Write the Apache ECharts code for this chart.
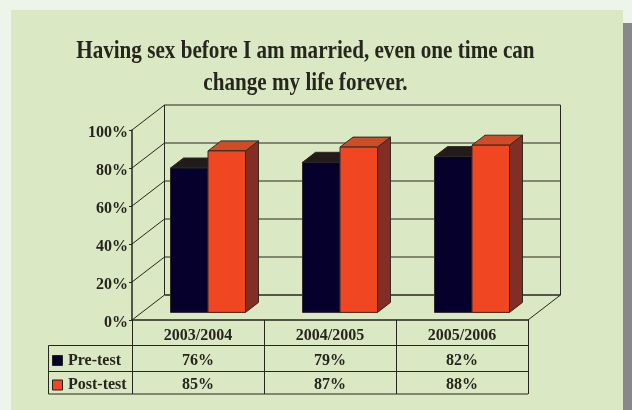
<!DOCTYPE html>
<html>
<head>
<meta charset="utf-8">
<title>Having sex before I am married</title>
<script src="https://cdn.jsdelivr.net/npm/echarts@6/dist/echarts.min.js"></script>
<style>
  html, body { margin: 0; padding: 0; background: #edf5ea; }
  #chart { width: 632px; height: 410px; }
</style>
</head>
<body>
<div id="chart"></div>
<script>
const titleLines = ['Having sex before I am married, even one time can', 'change my life forever.'];
const categories = ['2003/2004', '2004/2005', '2005/2006'];
const preTest = [76, 79, 82];
const postTest = [85, 87, 88];
const seriesNames = ['Pre-test', 'Post-test'];
const yTicks = [0, 20, 40, 60, 80, 100];

const FONT = '"Liberation Serif", serif';
const INK = '#26261e';
const PANEL = '#dbe8c4';

// depth of the fake 3d box, and of one bar inside it
const wallDx = 32.5, wallDy = -25;
const barDx = 13, barDy = -10;
const barInsetX = 10, barInsetY = -7.6;
const barWidth = 37.5;

const gridLeft = 132, gridRight = 528, gridTop = 130, gridBottom = 320;
const rowLines = [345.5, 371.5, 394];
const tableLeft = 48.5;

let chart = echarts.init(document.getElementById('chart'));

// back wall, left wall and floor
function renderWalls(params, api) {
  let box = params.coordSys;
  let y = api.coord([0, api.value(0)])[1];
  let children = [
    line(box.x, y, box.x + wallDx, y + wallDy, 1),
    line(box.x + wallDx, y + wallDy, box.x + box.width + wallDx, y + wallDy, api.value(0) === 0 ? 1.6 : 1)
  ];
  if (api.value(0) === 0) {
    children.push(line(box.x + box.width, y, box.x + box.width + wallDx, y + wallDy, 1));
  }
  if (api.value(0) === 100) {
    children.push(line(box.x + wallDx, y + wallDy, box.x + wallDx, box.y + box.height + wallDy, 1));
    children.push(line(box.x + box.width + wallDx, y + wallDy, box.x + box.width + wallDx, box.y + box.height + wallDy, 1));
  }
  return { type: 'group', children: children };
}

function line(x1, y1, x2, y2, w) {
  return {
    type: 'line',
    shape: { x1: x1, y1: y1, x2: x2, y2: y2 },
    style: { stroke: INK, lineWidth: w }
  };
}

function poly(points, fill) {
  return {
    type: 'polygon',
    shape: { points: points },
    style: { fill: fill, stroke: '#2f2a24', lineWidth: 1, lineJoin: 'round' }
  };
}

function barRenderer(side, colors) {
  return function (params, api) {
    let top = api.coord([api.value(0), api.value(1)]);
    let base = api.coord([api.value(0), 0]);
    let x0 = top[0] + barInsetX + (side < 0 ? -barWidth : 0);
    let x1 = x0 + barWidth;
    let yT = top[1] + barInsetY;
    let yB = base[1] + barInsetY;
    return {
      type: 'group',
      children: [
        poly([[x1, yT], [x1 + barDx, yT + barDy], [x1 + barDx, yB + barDy], [x1, yB]], colors.side),
        poly([[x0, yT], [x0 + barDx, yT + barDy], [x1 + barDx, yT + barDy], [x1, yT]], colors.top),
        poly([[x0, yT], [x1, yT], [x1, yB], [x0, yB]], colors.front)
      ]
    };
  };
}

// text and rules of the data table under the plot
function tableGraphics() {
  let els = [];
  let bandW = (gridRight - gridLeft) / categories.length;
  let rowCenters = [361, 385];
  let rows = [preTest, postTest];
  let swatches = [{ y: 355.5, c: '#05002c' }, { y: 380, c: '#f04722' }];

  rowLines.forEach(function (y) {
    els.push({ type: 'line', z: 5, shape: { x1: tableLeft, y1: y, x2: gridRight, y2: y }, style: { stroke: INK, lineWidth: 1 } });
  });
  els.push({ type: 'line', z: 5, shape: { x1: tableLeft, y1: rowLines[0], x2: tableLeft, y2: rowLines[2] }, style: { stroke: INK, lineWidth: 1 } });

  rows.forEach(function (vals, r) {
    els.push({ type: 'rect', z: 6, shape: { x: 52.5, y: swatches[r].y, width: 10, height: 10 }, style: { fill: swatches[r].c, stroke: '#222', lineWidth: 1 } });
    els.push({
      type: 'text', z: 6, x: 68, y: rowCenters[r],
      style: { text: seriesNames[r], font: 'bold 16px ' + FONT, fill: INK, textAlign: 'left', textVerticalAlign: 'middle' }
    });
    vals.forEach(function (v, i) {
      els.push({
        type: 'text', z: 6, x: gridLeft + bandW * (i + 0.5), y: rowCenters[r],
        style: { text: v + '%', font: 'bold 16px ' + FONT, fill: INK, textAlign: 'center', textVerticalAlign: 'middle' }
      });
    });
  });
  return els;
}

function titleGraphics() {
  return titleLines.map(function (t, i) {
    return {
      type: 'text', z: 6, x: 305.4, y: 51.5 + i * 32.5, scaleX: 0.845,
      style: { text: t, font: 'bold 25px ' + FONT, fill: INK, textAlign: 'center', textVerticalAlign: 'middle' }
    };
  });
}

let option = {
  animation: false,
  backgroundColor: '#edf5ea',
  grid: { left: gridLeft, right: 632 - gridRight, top: gridTop, bottom: 410 - gridBottom },
  xAxis: {
    type: 'category',
    data: categories,
    z: 5,
    axisLine: { lineStyle: { color: INK, width: 1.5 } },
    axisTick: { show: true, interval: 0, alignWithLabel: false, length: 74, lineStyle: { color: INK, width: 1 } },
    axisLabel: { margin: 8, color: INK, fontFamily: FONT, fontWeight: 'bold', fontSize: 16 }
  },
  yAxis: {
    type: 'value',
    min: 0,
    max: 100,
    interval: 20,
    z: 5,
    splitLine: { show: false },
    axisLine: { show: true, lineStyle: { color: INK, width: 1.5 } },
    axisTick: { show: true, length: 3, lineStyle: { color: INK } },
    axisLabel: {
      margin: 4,
      verticalAlign: 'top',
      lineHeight: 5,
      color: INK,
      fontFamily: FONT,
      fontWeight: 'bold',
      fontSize: 16,
      formatter: '{value}%'
    }
  },
  graphic: [
    { type: 'rect', z: -10, shape: { x: 11, y: 10, width: 612, height: 400 }, style: { fill: PANEL } },
    { type: 'rect', z: -10, shape: { x: 623, y: 23, width: 9, height: 387 }, style: { fill: '#88888a' } }
  ].concat(titleGraphics(), tableGraphics()),
  series: [
    {
      type: 'custom',
      name: 'walls',
      silent: true,
      z: 1,
      clip: false,
      renderItem: renderWalls,
      data: yTicks.map(function (t) { return [t]; }),
      encode: { y: 0 }
    },
    {
      type: 'custom',
      name: seriesNames[0],
      z: 2,
      clip: false,
      renderItem: barRenderer(-1, { front: '#05002c', top: '#231a1c', side: '#1a1030' }),
      data: preTest.map(function (v, i) { return [i, v]; }),
      encode: { x: 0, y: 1 }
    },
    {
      type: 'custom',
      name: seriesNames[1],
      z: 3,
      clip: false,
      renderItem: barRenderer(1, { front: '#f04722', top: '#cf4c28', side: '#822e25' }),
      data: postTest.map(function (v, i) { return [i, v]; }),
      encode: { x: 0, y: 1 }
    }
  ]
};

chart.setOption(option);
</script>
</body>
</html>
